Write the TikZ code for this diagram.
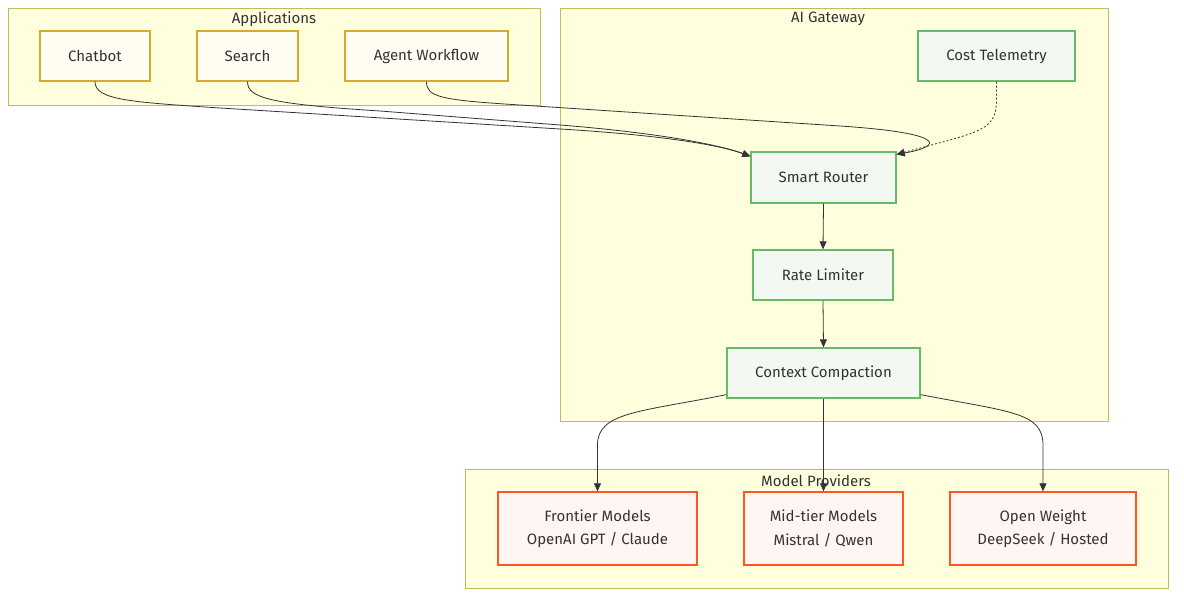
\documentclass[tikz,border=0pt]{standalone}
\usepackage{fontspec}
\setmainfont{Fira Sans}
\usetikzlibrary{arrows.meta}
\definecolor{clfill}{HTML}{FFFFDE}
\definecolor{cldraw}{HTML}{BDBD5A}
\definecolor{appfill}{HTML}{FFFCF2}
\definecolor{appdraw}{HTML}{D6AA2E}
\definecolor{gwfill}{HTML}{F3F8F3}
\definecolor{gwdraw}{HTML}{66BB6A}
\definecolor{pvfill}{HTML}{FFF5F2}
\definecolor{pvdraw}{HTML}{FF5722}
\definecolor{txt}{HTML}{333333}
\tikzset{
  cluster/.style={draw=cldraw, fill=clfill, line width=0.9pt, inner sep=0pt},
  ctitle/.style={text=txt, font=\fontsize{15}{18}\selectfont, inner sep=0pt},
  box/.style={line width=1.3pt, text=txt, font=\fontsize{15}{18}\selectfont, inner sep=0pt, align=center},
  appbox/.style={box, draw=appdraw, fill=appfill},
  gwbox/.style={box, draw=gwdraw, fill=gwfill},
  pvbox/.style={box, draw=pvdraw, fill=pvfill, font=\fontsize{15}{23.5}\selectfont},
  edge/.style={draw=txt, line width=0.8pt, -{Triangle[length=8pt,width=7pt]}},
  dedge/.style={edge, dash pattern=on 2pt off 2pt}
}
\begin{document}
\begin{tikzpicture}[x=1pt,y=1pt]
\useasboundingbox (0,0) rectangle (1184,-601);
% clusters
\node[cluster, minimum width=532, minimum height=97] (apps) at (274,-56.5) {};
\node[ctitle] (appst) at (274,-19) {Applications};
\node[cluster, minimum width=548, minimum height=413] (gw) at (834,-214.5) {};
\node[ctitle] (gwt) at (828,-19) {AI Gateway};
\node[cluster, minimum width=703, minimum height=119] (pv) at (816.5,-528.5) {};
\node[ctitle] (pvt) at (816,-481) {Model Providers};
% nodes
\node[appbox, minimum width=110, minimum height=50] (chat) at (95,-56) {Chatbot};
\node[appbox, minimum width=101, minimum height=50] (search) at (247.5,-56) {Search};
\node[appbox, minimum width=163, minimum height=50] (agent) at (426.5,-56) {Agent Workflow};
\node[gwbox, minimum width=157, minimum height=50] (cost) at (996.5,-56) {Cost Telemetry};
\node[gwbox, minimum width=145, minimum height=51] (router) at (823.5,-177.5) {Smart Router};
\node[gwbox, minimum width=140, minimum height=50] (rate) at (823,-275) {Rate Limiter};
\node[gwbox, minimum width=193, minimum height=50] (cc) at (823.5,-373) {Context Compaction};
\node[pvbox, minimum width=199, minimum height=73] (front) at (597.5,-528.5) {Frontier Models\\OpenAI GPT / Claude};
\node[pvbox, minimum width=159, minimum height=73] (mid) at (823.5,-528.5) {Mid-tier Models\\Mistral / Qwen};
\node[pvbox, minimum width=186, minimum height=73] (open) at (1043,-528.5) {Open Weight\\DeepSeek / Hosted};
% anchor points
\coordinate (rin) at ([yshift=-5pt]router.north west);
\coordinate (rout) at ([yshift=-3pt]router.north east);
\coordinate (ccl) at ([yshift=4pt]cc.south west);
\coordinate (ccr) at ([yshift=4pt]cc.south east);
% edges
\draw[edge] (chat.south) .. controls (95,-100) and (130,-102) .. (220,-108) -- (560,-129) .. controls (660,-135) and (720,-145) .. (rin);
\draw[edge] (search.south) .. controls (247.5,-98) and (270,-104) .. (380,-111) -- (560,-125) .. controls (660,-133) and (720,-145) .. (rin);
\draw[edge] (agent.south) .. controls (426.5,-97) and (440,-100) .. (520,-105) -- (840,-126) .. controls (945,-133) and (945,-146) .. (rout);
\draw[dedge] (cost.south) -- (996.5,-100) .. controls (996.5,-125) and (985,-130) .. (950,-140) -- (rout);
\draw[edge] (router.south) -- (rate.north);
\draw[edge] (rate.south) -- (cc.north);
\draw[edge] (ccl) .. controls (640,-412) and (597.5,-412) .. (597.5,-445) -- (front.north);
\draw[edge] (cc.south) -- (mid.north);
\draw[edge] (ccr) .. controls (1010,-412) and (1043,-412) .. (1043,-445) -- (open.north);
\end{tikzpicture}
\end{document}
